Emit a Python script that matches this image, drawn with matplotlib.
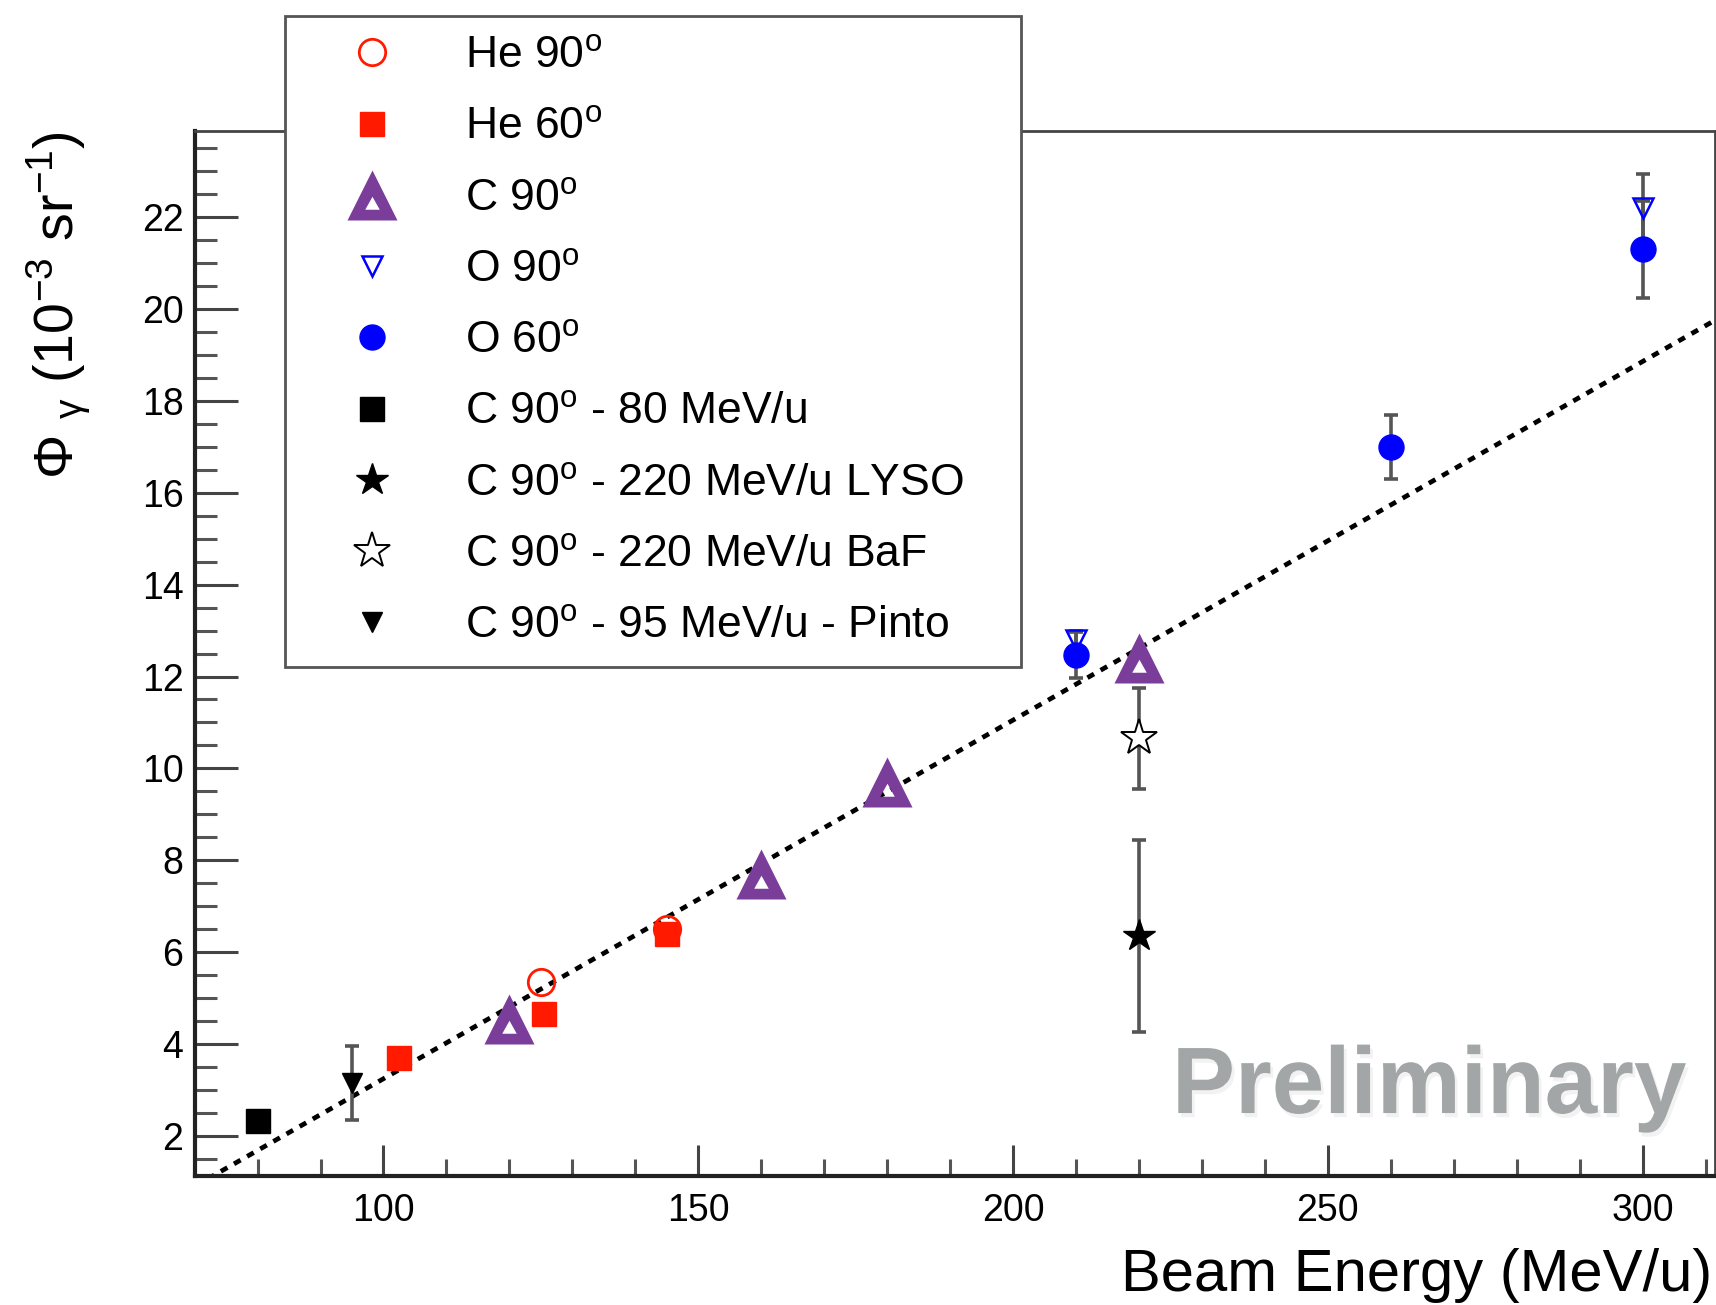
import matplotlib
matplotlib.use('Agg')
import matplotlib.pyplot as plt
import matplotlib.patheffects as pe
from matplotlib.path import Path
import numpy as np

plt.rcParams['font.family'] = ['Liberation Sans', 'DejaVu Sans']
plt.rcParams['mathtext.fontset'] = 'custom'
plt.rcParams['mathtext.rm'] = 'Liberation Sans'
plt.rcParams['mathtext.it'] = 'Liberation Sans'
plt.rcParams['mathtext.bf'] = 'Liberation Sans:bold'

# data (beam energy in MeV/u, yield in 1e-3 sr^-1)
he90_x = [125, 145]
he90_y = [5.35, 6.5]
he60_x = [102.5, 125.5, 145]
he60_y = [3.7, 4.65, 6.4]
c90_x = [120, 160, 180, 220]
c90_y = [4.55, 7.7, 9.7, 12.4]
o90_x = [210, 300]
o90_y = [12.8, 22.2]
o90_err = [0.2, 0.75]
o60_x = [210, 260, 300]
o60_y = [12.47, 17.0, 21.3]
o60_err = [0.5, 0.7, 1.05]
c80_x = [80]
c80_y = [2.33]
lyso_x = [220]
lyso_y = [6.35]
lyso_err = [2.1]
baf_x = [220]
baf_y = [10.65]
baf_err = [1.1]
pinto_x = [95]
pinto_y = [3.15]
pinto_err = [0.8]

# linear fit
fit_a = -4.57
fit_b = 0.0781

labels = ['He 90$^{\\rm o}$', 'He 60$^{\\rm o}$', 'C 90$^{\\rm o}$', 'O 90$^{\\rm o}$',
          'O 60$^{\\rm o}$', 'C 90$^{\\rm o}$ - 80 MeV/u', 'C 90$^{\\rm o}$ - 220 MeV/u LYSO',
          'C 90$^{\\rm o}$ - 220 MeV/u BaF', 'C 90$^{\\rm o}$ - 95 MeV/u - Pinto']

red = '#ff1a00'
blue = '#0000ff'
purple = '#7a3d9a'
ebc = '#555555'

# thick open triangle (ROOT style 26): filled triangle with a small hole
tri_verts = [(0, 1), (-1, -1), (1, -1), (0, 1),
             (0, -0.05), (0.29, -0.57), (-0.29, -0.57), (0, -0.05)]
tri_codes = [Path.MOVETO, Path.LINETO, Path.LINETO, Path.CLOSEPOLY] * 2
tri_marker = Path(tri_verts, tri_codes)

fig = plt.figure(figsize=(17.16, 13.05), dpi=100)
ax = fig.add_axes([0.1134, 0.0988, 0.886, 0.8008])

xlim = (70, 311.5)
ax.set_xlim(*xlim)
ax.set_ylim(1.12, 23.88)

fx = np.array(xlim)
ax.plot(fx, fit_a + fit_b * fx, color='black', lw=3.4, ls=(0, (1.6, 1.6)), zorder=2)

ekw = dict(fmt='none', ecolor=ebc, elinewidth=2.6, capsize=5, capthick=2.6, zorder=3)
ax.errorbar(o90_x, o90_y, yerr=o90_err, **ekw)
ax.errorbar(o60_x, o60_y, yerr=o60_err, **ekw)
ax.errorbar(lyso_x, lyso_y, yerr=lyso_err, **ekw)
ax.errorbar(baf_x, baf_y, yerr=baf_err, **ekw)
ax.errorbar(pinto_x, pinto_y, yerr=pinto_err, **ekw)

h = []
h += ax.plot(he90_x, he90_y, 'o', ms=19, mfc='none', mec=red, mew=2, ls='none', zorder=4)
h += ax.plot(he60_x, he60_y, 's', ms=17, color=red, ls='none', zorder=4)
h += ax.plot(c90_x, c90_y, marker=tri_marker, ms=36, color=purple, mew=0, ls='none', zorder=5)
h += ax.plot(o90_x, o90_y, 'v', ms=15, mfc='none', mec=blue, mew=1.8, ls='none', zorder=4)
h += ax.plot(o60_x, o60_y, 'o', ms=18, color=blue, ls='none', zorder=4)
h += ax.plot(c80_x, c80_y, 's', ms=17, color='black', ls='none', zorder=4)
h += ax.plot(lyso_x, lyso_y, '*', ms=24, color='black', ls='none', zorder=4)
h += ax.plot(baf_x, baf_y, '*', ms=27, mfc='white', mec='black', mew=1.4, ls='none', zorder=4)
h += ax.plot(pinto_x, pinto_y, 'v', ms=15, color='black', ls='none', zorder=4)

# ROOT-like axes
for s in ['left', 'bottom']:
    ax.spines[s].set_linewidth(3)
    ax.spines[s].set_color('#222222')
for s in ['top', 'right']:
    ax.spines[s].set_linewidth(2)
    ax.spines[s].set_color('#444444')

ax.set_xticks([100, 150, 200, 250, 300])
ax.set_xticks(np.arange(80, 312, 10), minor=True)
ax.set_yticks(np.arange(2, 23, 2))
ax.set_yticks(np.arange(1.5, 24, 0.5), minor=True)
ax.tick_params(axis='y', which='major', direction='in', length=31, width=2.2, color='#444444',
               labelsize=27, pad=8)
ax.tick_params(axis='y', which='minor', direction='in', length=16, width=2.2, color='#555555')
ax.tick_params(axis='x', which='major', direction='in', length=22, width=2.2, color='#444444',
               labelsize=27, pad=12)
ax.tick_params(axis='x', which='minor', direction='in', length=12, width=2.2, color='#555555')

fig.text(0.998, 0.0107, 'Beam Energy (MeV/u)', ha='right', va='baseline', fontsize=43)
fig.text(0.034, 0.8996, '$\\Phi$ $_{\\gamma}$ (10$^{-3}$ sr$^{-1}$)', rotation=90,
         ha='center', va='top', fontsize=40)

ax.text(0.9816, 0.0603, 'Preliminary', transform=ax.transAxes, ha='right', va='baseline',
        fontsize=68, fontweight='bold', color='#a3a6a6', zorder=1,
        path_effects=[pe.withSimplePatchShadow(offset=(2, -3), shadow_rgbFace='black', alpha=0.05)])

leg = ax.legend(h, labels, loc='upper left', bbox_to_anchor=(0.166, 0.486, 0.429, 0.5017),
                bbox_transform=fig.transFigure, mode='expand', borderaxespad=0,
                fontsize=32, numpoints=1, handlelength=3.0, handletextpad=0.6,
                borderpad=0.45, labelspacing=0.68, fancybox=False, framealpha=1,
                edgecolor='#555555')
leg.get_frame().set_linewidth(2)
leg.set_zorder(10)

fig.savefig('out.png', dpi=100)
